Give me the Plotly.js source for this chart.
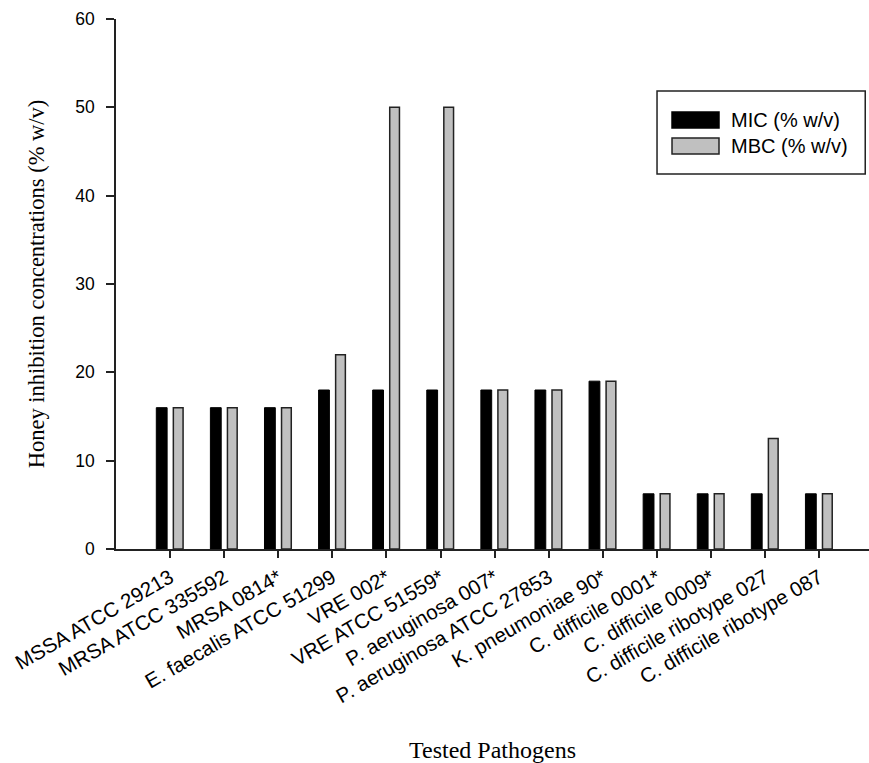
<!DOCTYPE html>
<html>
<head>
<meta charset="utf-8">
<script src="https://cdn.plot.ly/plotly-3.0.1.min.js"></script>
<style>
  html, body { margin: 0; padding: 0; background: #ffffff; }
  #chart { width: 869px; height: 763px; }
</style>
</head>
<body>
<div id="chart"></div>
<script>
const pathogens = [
  "MSSA ATCC 29213",
  "MRSA ATCC 335592",
  "MRSA 0814*",
  "E. faecalis ATCC 51299",
  "VRE 002*",
  "VRE ATCC 51559*",
  "P. aeruginosa 007*",
  "P. aeruginosa ATCC 27853",
  "K. pneumoniae 90*",
  "C. difficile 0001*",
  "C. difficile 0009*",
  "C. difficile ribotype 027",
  "C. difficile ribotype 087"
];
const micValues = [16, 16, 16, 18, 18, 18, 18, 18, 19, 6.25, 6.25, 6.25, 6.25];
const mbcValues = [16, 16, 16, 22, 50, 50, 18, 18, 19, 6.25, 6.25, 12.5, 6.25];
const yTicks = [0, 10, 20, 30, 40, 50, 60];
const seriesNames = ["MIC (% w/v)", "MBC (% w/v)"];

const sans = "Arial, 'Liberation Sans', sans-serif";
const serif = "'Times New Roman', 'Liberation Serif', serif";

const traces = [
  {
    type: "bar",
    name: seriesNames[0],
    x: pathogens,
    y: micValues,
    width: 0.2,
    offset: -0.255,
    marker: { color: "#000000", line: { color: "#000000", width: 1 } },
    showlegend: false,
    hoverinfo: "x+y"
  },
  {
    type: "bar",
    name: seriesNames[1],
    x: pathogens,
    y: mbcValues,
    width: 0.18,
    offset: 0.06,
    marker: { color: "#c0c0c0", line: { color: "#222222", width: 1.5 } },
    showlegend: false,
    hoverinfo: "x+y"
  }
];

// legend drawn as decoration in paper coordinates
const lg = { x0: 0.7185, x1: 0.995, y0: 0.7075, y1: 0.864 };
const sw = { x0: 0.7384, x1: 0.8008 };
const rows = [
  { y0: 0.7943, y1: 0.8245, yc: 0.8094, fill: "#000000", line: "#000000" },
  { y0: 0.7453, y1: 0.7755, yc: 0.7604, fill: "#c0c0c0", line: "#222222" }
];
const shapes = [
  { type: "rect", xref: "paper", yref: "paper", x0: lg.x0, x1: lg.x1, y0: lg.y0, y1: lg.y1,
    line: { color: "#222222", width: 1.5 }, fillcolor: "rgba(0,0,0,0)" }
];
const annotations = [];
rows.forEach((r, i) => {
  shapes.push({ type: "rect", xref: "paper", yref: "paper", x0: sw.x0, x1: sw.x1, y0: r.y0, y1: r.y1,
    line: { color: r.line, width: 1.5 }, fillcolor: r.fill });
  annotations.push({ xref: "paper", yref: "paper", x: 0.8137, y: r.yc, xanchor: "left", yanchor: "middle",
    text: seriesNames[i], showarrow: false, font: { family: sans, size: 20, color: "#000" } });
});

const layout = {
  width: 869,
  height: 763,
  margin: { l: 116, r: 0, t: 19, b: 214, pad: 0 },
  paper_bgcolor: "#ffffff",
  plot_bgcolor: "#ffffff",
  showlegend: false,
  xaxis: {
    type: "category",
    range: [-1, 12.92],
    tickmode: "array",
    tickvals: pathogens,
    ticktext: pathogens,
    tickangle: -30,
    ticks: "outside",
    ticklen: 7,
    tickwidth: 1.5,
    tickcolor: "#222",
    showline: true,
    linecolor: "#222",
    linewidth: 1.5,
    showgrid: false,
    zeroline: false,
    tickfont: { family: sans, size: 20.5, color: "#000" },
    title: { text: "Tested Pathogens", font: { family: serif, size: 24, color: "#000" }, standoff: 38 },
    automargin: false
  },
  yaxis: {
    range: [0, 60],
    tickmode: "array",
    tickvals: yTicks,
    ticks: "outside",
    ticklen: 8,
    tickwidth: 1.5,
    tickcolor: "#222",
    showline: true,
    linecolor: "#222",
    linewidth: 1.5,
    showgrid: false,
    zeroline: false,
    ticklabelstandoff: 8,
    tickfont: { family: sans, size: 17.5, color: "#000" },
    title: { text: "Honey inhibition concentrations (% w/v)", font: { family: serif, size: 22.5, color: "#000" }, standoff: 24 },
    automargin: false
  },
  shapes: shapes,
  annotations: annotations
};

Plotly.newPlot("chart", traces, layout, { displayModeBar: false, responsive: false });
</script>
</body>
</html>
